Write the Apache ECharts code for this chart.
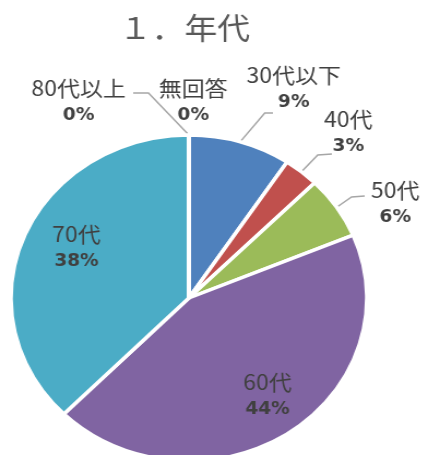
<!DOCTYPE html>
<html>
<head>
<meta charset="utf-8">
<script src="https://cdn.jsdelivr.net/npm/echarts@6/dist/echarts.min.js"></script>
<style>
html, body { margin: 0; padding: 0; background: #fff; overflow: hidden; }
/* 元の図は横に少し引き伸ばされているので、同じ比率で横に伸ばす */
#chart { width: 392px; height: 455px; transform: scaleX(1.0918); transform-origin: 0 0; }
</style>
</head>
<body>
<div id="chart"></div>
<script>
// 年代別の割合（％）
const categories = ['30代以下', '40代', '50代', '60代', '70代', '80代以上', '無回答'];
const shares = [9.3, 3.2, 6.2, 43.7, 37.6, 0, 0];
const colors = ['#4F81BD', '#C0504D', '#9BBB59', '#8064A2', '#4BACC6', '#F79646', '#2C4D75'];

// ラベルの置き場所と引き出し線の折れ点（伸ばす前の座標）
const labelSpots = {
    '30代以下': { x: 269, y: 89, line: [[242.5, 113], [250, 113]] },
    '40代': { x: 319, y: 133, line: [[291, 155], [304, 154]] },
    '50代': { x: 362, y: 204, line: [[322, 197], [334, 196]] },
    '60代': { x: 245, y: 396 },
    '70代': { x: 70, y: 248 },
    '80代以上': { x: 72, y: 102, line: [[136, 93], [122, 93]] },
    '無回答': { x: 177, y: 102 }
};

const myChart = echarts.init(document.getElementById('chart'));
const option = {
    animation: false,
    title: {
        text: '１．年代',
        left: 104,
        top: 8,
        textStyle: {
            fontFamily: '"Noto Sans CJK JP"',
            fontSize: 30,
            fontWeight: 'normal',
            color: '#595959'
        }
    },
    series: [
        {
            type: 'pie',
            center: [173, 298],
            radius: 163,
            startAngle: 90,
            clockwise: true,
            avoidLabelOverlap: false,
            percentPrecision: 0,
            itemStyle: {
                borderColor: '#fff',
                borderWidth: 3.5
            },
            label: {
                show: true,
                position: 'outside',
                align: 'center',
                formatter: '{n|{b}}\n{p|{d}%}',
                rich: {
                    n: {
                        fontFamily: '"Noto Sans CJK JP"',
                        fontSize: 21,
                        color: '#404040',
                        lineHeight: 28,
                        align: 'center'
                    },
                    p: {
                        fontFamily: '"DejaVu Sans"',
                        fontWeight: 'bold',
                        fontSize: 17,
                        color: '#404040',
                        lineHeight: 28,
                        align: 'center'
                    }
                }
            },
            labelLine: {
                show: true,
                lineStyle: { color: '#A6A6A6', width: 1.5 }
            },
            labelLayout: function (params) {
                const spot = labelSpots[categories[params.dataIndex]];
                const res = { x: spot.x, y: spot.y, align: 'center', verticalAlign: 'middle' };
                if (spot.line && params.labelLinePoints) {
                    res.labelLinePoints = [params.labelLinePoints[0]].concat(spot.line);
                }
                return res;
            },
            data: categories.map((name, i) => ({
                name: name,
                value: shares[i],
                itemStyle: { color: colors[i] },
                labelLine: { show: !!labelSpots[name].line }
            }))
        }
    ]
};
option && myChart.setOption(option);
</script>
</body>
</html>
